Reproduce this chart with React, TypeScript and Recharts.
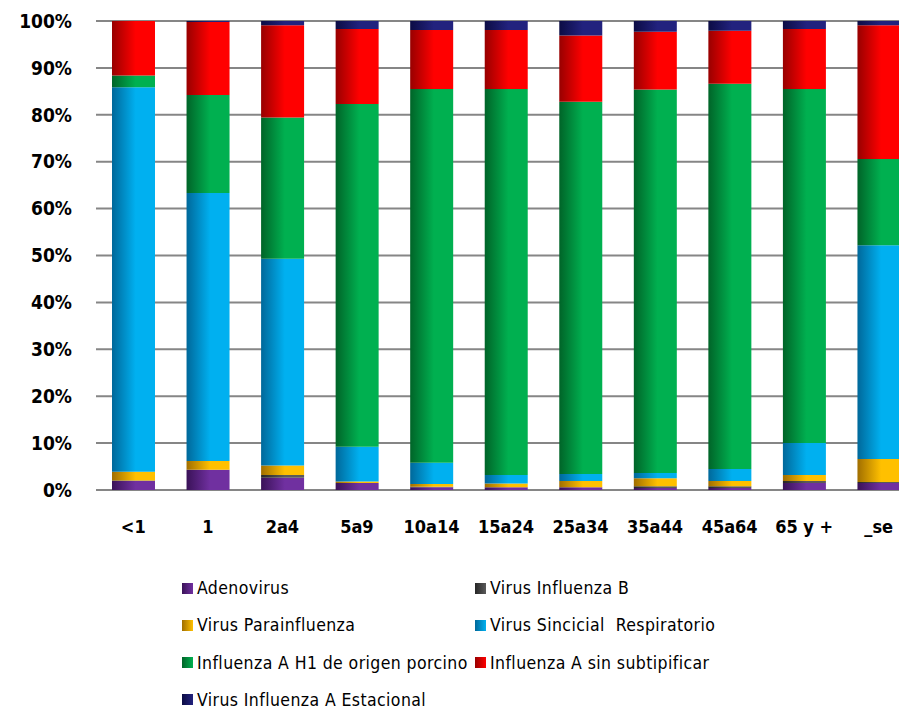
import React from 'react';
import { BarChart, Bar, XAxis, YAxis, CartesianGrid } from 'recharts';

// grupos de edad (eje X)
const categories = ['<1', '1', '2a4', '5a9', '10a14', '15a24', '25a34', '35a44', '45a64', '65 y +', '_se'];

// porcentajes por virus
const adenovirus = [1.9, 4.3, 2.6, 1.5, 0.6, 0.6, 0.6, 0.4, 0.4, 1.5, 1.5];
const influenzaB = [0.1, 0, 0.6, 0, 0.1, 0, 0, 0.4, 0.4, 0.4, 0.2];
const parainfluenza = [1.9, 1.9, 2.0, 0.3, 0.6, 0.8, 1.3, 1.7, 1.1, 1.3, 4.9];
const sincicial = [82, 57.1, 44.1, 7.4, 4.5, 1.8, 1.5, 1.1, 2.6, 6.8, 45.6];
const h1Porcino = [2.5, 20.9, 30.1, 73.1, 79.7, 82.3, 79.4, 81.8, 82.1, 75.5, 18.4];
const sinSubtipificar = [11.6, 15.6, 19.7, 16.0, 12.6, 12.6, 14.1, 12.3, 11.3, 12.8, 28.5];
const estacional = [0, 0.2, 0.9, 1.7, 1.9, 1.9, 3.1, 2.3, 2.1, 1.7, 0.9];

const yTicks = [0, 10, 20, 30, 40, 50, 60, 70, 80, 90, 100];

const data = categories.map((c, i) => ({
  grupo: c,
  adeno: adenovirus[i],
  infB: influenzaB[i],
  para: parainfluenza[i],
  vsr: sincicial[i],
  h1: h1Porcino[i],
  sinSub: sinSubtipificar[i],
  estac: estacional[i],
}));

const SERIES = [
  { key: 'adeno', name: 'Adenovirus', dark: '#3a1258', light: '#7030a0' },
  { key: 'infB', name: 'Virus Influenza B', dark: '#262626', light: '#5a5a5a' },
  { key: 'para', name: 'Virus Parainfluenza', dark: '#a06e00', light: '#ffc000' },
  { key: 'vsr', name: 'Virus Sincicial  Respiratorio', dark: '#00689a', light: '#00b0f0' },
  { key: 'h1', name: 'Influenza A H1 de origen porcino', dark: '#006428', light: '#00b050' },
  { key: 'sinSub', name: 'Influenza A sin subtipificar', dark: '#980000', light: '#ff0000' },
  { key: 'estac', name: 'Virus Influenza A Estacional', dark: '#0c0c44', light: '#22227e' },
];

const legendRows = [
  [SERIES[0], SERIES[1]],
  [SERIES[2], SERIES[3]],
  [SERIES[4], SERIES[5]],
  [SERIES[6]],
];

export default function App() {
  return (
    <div style={{ position: 'fixed', top: 0, left: 0, width: 899, height: 709, overflow: 'hidden', background: '#fff' }}>
      <BarChart
        width={916}
        height={560}
        data={data}
        margin={{ top: 21, right: 0, left: 0, bottom: 0 }}
        barSize={43}
      >
        <defs>
          {SERIES.map(s => (
            <linearGradient key={s.key} id={`g-${s.key}`} x1="0" y1="0" x2="1" y2="0">
              <stop offset="0%" stopColor={s.dark} />
              <stop offset="55%" stopColor={s.light} />
              <stop offset="100%" stopColor={s.light} />
            </linearGradient>
          ))}
        </defs>
        <CartesianGrid vertical={false} stroke="#868686" strokeWidth={2} />
        <XAxis
          dataKey="grupo"
          height={70}
          axisLine={false}
          tickLine={false}
          tickSize={0}
          tickMargin={30}
          interval={0}
          tick={{ fontSize: 18, fontWeight: 'bold', fill: '#000', fontFamily: 'DejaVu Sans Condensed' }}
        />
        <YAxis
          width={96}
          domain={[0, 100]}
          ticks={yTicks}
          axisLine={false}
          tickLine={false}
          tickSize={0}
          tickMargin={24}
          tickFormatter={(v: number) => `${v}%`}
          tick={{ fontSize: 19, fontWeight: 'bold', fill: '#000', fontFamily: 'DejaVu Sans Condensed' }}
        />
        {SERIES.map(s => (
          <Bar
            key={s.key}
            dataKey={s.key}
            name={s.name}
            stackId="a"
            fill={`url(#g-${s.key})`}
            isAnimationActive={false}
          />
        ))}
      </BarChart>

      {/* leyenda en dos columnas */}
      {legendRows.map((row, r) =>
        row.map((s, c) => (
          <div
            key={s.key}
            style={{
              position: 'absolute',
              left: c === 0 ? 182 : 475,
              top: 588 + r * 37.3 - 10,
              height: 20,
              lineHeight: '20px',
              display: 'flex',
              alignItems: 'center',
              fontFamily: 'DejaVu Sans Condensed',
              fontSize: 17.5,
              letterSpacing: 0.4,
              color: '#000',
              whiteSpace: 'pre',
            }}
          >
            <span
              style={{
                display: 'inline-block',
                width: 11,
                height: 11,
                marginRight: 4,
                background: `linear-gradient(to right, ${s.dark}, ${s.light})`,
              }}
            />
            {s.name}
          </div>
        ))
      )}
    </div>
  );
}
